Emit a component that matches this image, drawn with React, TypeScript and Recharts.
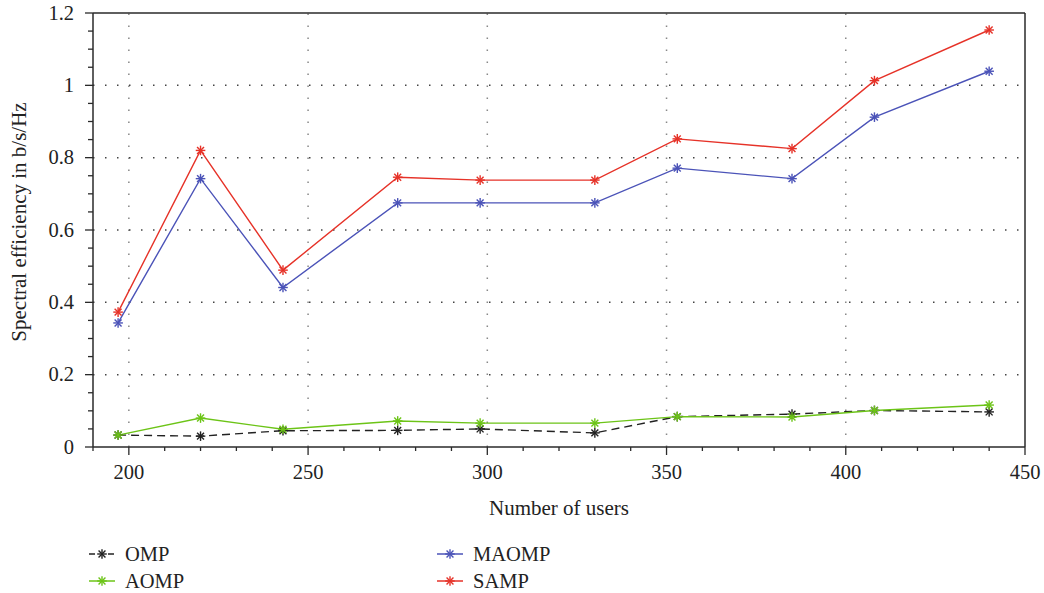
import { LineChart, Line, XAxis, YAxis, ReferenceLine } from 'recharts'

const users = [197, 220, 243, 275, 298, 330, 353, 385, 408, 440]
const omp = [0.033, 0.03, 0.045, 0.046, 0.05, 0.039, 0.084, 0.091, 0.101, 0.097]
const aomp = [0.033, 0.08, 0.049, 0.072, 0.066, 0.066, 0.084, 0.083, 0.101, 0.116]
const maomp = [0.343, 0.742, 0.441, 0.675, 0.675, 0.675, 0.771, 0.742, 0.912, 1.039]
const samp = [0.373, 0.82, 0.489, 0.746, 0.738, 0.738, 0.852, 0.825, 1.013, 1.153]

const xTicks = [190, 200, 210, 220, 230, 240, 250, 260, 270, 280, 290, 300, 310, 320, 330, 340, 350, 360, 370, 380, 390, 400, 410, 420, 430, 440, 450]
const yTicks = [0, 0.05, 0.1, 0.15, 0.2, 0.25, 0.3, 0.35, 0.4, 0.45, 0.5, 0.55, 0.6, 0.65, 0.7, 0.75, 0.8, 0.85, 0.9, 0.95, 1, 1.05, 1.1, 1.15, 1.2]
const xGrid = [200, 250, 300, 350, 400]
const yGrid = [0.2, 0.4, 0.6, 0.8, 1]

const data = users.map((u, i) => ({
  users: u,
  omp: omp[i],
  aomp: aomp[i],
  maomp: maomp[i],
  samp: samp[i]
}))

const FONT = '"Liberation Serif", "DejaVu Serif", serif'
const AXIS = '#2a2a2a'

const COLORS = {
  omp: '#222222',
  aomp: '#6cc417',
  maomp: '#4b53b8',
  samp: '#e63228'
}

const makeStar = (color: string) => (props: any) => {
  const { cx, cy, key } = props
  if (cx == null || cy == null) return <g key={key} />
  const r = 4.8
  const d = r * 0.72
  return (
    <g key={key} stroke={color} strokeWidth={1.4}>
      <line x1={cx - r} y1={cy} x2={cx + r} y2={cy} />
      <line x1={cx} y1={cy - r} x2={cx} y2={cy + r} />
      <line x1={cx - d} y1={cy - d} x2={cx + d} y2={cy + d} />
      <line x1={cx - d} y1={cy + d} x2={cx + d} y2={cy - d} />
    </g>
  )
}

const XTick = (props: any) => {
  const { x, y, payload } = props
  const v = payload.value
  const major = v % 50 === 0
  return (
    <g>
      <line x1={x} y1={y} x2={x} y2={y + (major ? 8 : 4)} stroke={AXIS} strokeWidth={1.3} />
      {major && (
        <text x={x} y={y + 32} textAnchor="middle" fontSize={20.5} fontFamily={FONT} fill="#222">
          {v}
        </text>
      )}
    </g>
  )
}

const YTick = (props: any) => {
  const { x, y, payload } = props
  const v = payload.value
  const major = Math.abs(Math.round(v * 5) - v * 5) < 1e-6
  return (
    <g>
      <line x1={x} y1={y} x2={x - (major ? 8 : 5)} y2={y} stroke={AXIS} strokeWidth={1.3} />
      {major && (
        <text x={x - 19} y={y + 6.5} textAnchor="end" fontSize={20.5} fontFamily={FONT} fill="#222">
          {Number(v.toFixed(1)).toString()}
        </text>
      )}
    </g>
  )
}

const legendItems = [
  { name: 'OMP', color: COLORS.omp, dash: true, left: 88, top: 554 },
  { name: 'AOMP', color: COLORS.aomp, dash: false, left: 88, top: 581 },
  { name: 'MAOMP', color: COLORS.maomp, dash: false, left: 436, top: 554 },
  { name: 'SAMP', color: COLORS.samp, dash: false, left: 436, top: 581 }
]

const LegendIcon = ({ color, dash }: { color: string; dash: boolean }) => {
  const Star = makeStar(color)
  return (
    <svg width={28} height={14} style={{ display: 'block' }}>
      {dash ? (
        <>
          <line x1={1} y1={7} x2={7} y2={7} stroke={color} strokeWidth={1.5} />
          <line x1={20} y1={7} x2={26} y2={7} stroke={color} strokeWidth={1.5} />
        </>
      ) : (
        <line x1={1} y1={7} x2={27} y2={7} stroke={color} strokeWidth={1.5} />
      )}
      {Star({ cx: 14, cy: 7, key: 's' })}
    </svg>
  )
}

export default function App() {
  return (
    <div style={{ position: 'absolute', left: 0, top: 0, width: 1044, height: 593, background: '#fff' }}>
      <LineChart
        width={1044}
        height={530}
        data={data}
        margin={{ top: 13, right: 19, left: 0, bottom: 0 }}
      >
        <XAxis
          dataKey="users"
          type="number"
          domain={[190, 450]}
          ticks={xTicks}
          interval={0}
          tickSize={0}
          tickMargin={0}
          tickLine={false}
          tick={<XTick />}
          height={83}
          stroke={AXIS}
          strokeWidth={1.5}
          label={({ viewBox }: any) => (
            <text
              x={viewBox.x + viewBox.width / 2}
              y={viewBox.y + 68}
              textAnchor="middle"
              fontSize={21}
              fontFamily={FONT}
              fill="#222"
            >
              Number of users
            </text>
          )}
        />
        <YAxis
          type="number"
          domain={[0, 1.2]}
          ticks={yTicks}
          interval={0}
          tickSize={0}
          tickMargin={0}
          tickLine={false}
          tick={<YTick />}
          width={93}
          stroke={AXIS}
          strokeWidth={1.5}
          label={({ viewBox }: any) => {
            const cx = 19
            const cy = viewBox.y + viewBox.height / 2 - 8
            return (
              <text
                x={cx}
                y={cy}
                transform={`rotate(-90 ${cx} ${cy})`}
                textAnchor="middle"
                dominantBaseline="central"
                fontSize={21}
                fontFamily={FONT}
                fill="#222"
              >
                Spectral efficiency in b/s/Hz
              </text>
            )
          }}
        />
        {xGrid.map((g) => (
          <ReferenceLine key={`gx${g}`} x={g} stroke="#888" strokeWidth={1.5} strokeDasharray="1.5 10.5" />
        ))}
        {yGrid.map((g) => (
          <ReferenceLine key={`gy${g}`} y={g} stroke="#444" strokeWidth={1.5} strokeDasharray="1.5 10.5" />
        ))}
        <ReferenceLine y={1.2} stroke={AXIS} strokeWidth={1.5} />
        <ReferenceLine x={450} stroke={AXIS} strokeWidth={1.5} />
        <Line
          dataKey="omp"
          name="OMP"
          stroke={COLORS.omp}
          strokeWidth={1.4}
          strokeDasharray="8 5"
          dot={makeStar(COLORS.omp)}
          isAnimationActive={false}
        />
        <Line
          dataKey="aomp"
          name="AOMP"
          stroke={COLORS.aomp}
          strokeWidth={1.4}
          dot={makeStar(COLORS.aomp)}
          isAnimationActive={false}
        />
        <Line
          dataKey="maomp"
          name="MAOMP"
          stroke={COLORS.maomp}
          strokeWidth={1.4}
          dot={makeStar(COLORS.maomp)}
          isAnimationActive={false}
        />
        <Line
          dataKey="samp"
          name="SAMP"
          stroke={COLORS.samp}
          strokeWidth={1.4}
          dot={makeStar(COLORS.samp)}
          isAnimationActive={false}
        />
      </LineChart>
      {legendItems.map((it) => (
        <div
          key={it.name}
          style={{
            position: 'absolute',
            left: it.left,
            top: it.top - 12,
            height: 24,
            display: 'flex',
            alignItems: 'center',
            fontFamily: FONT,
            fontSize: 20.5,
            color: '#222'
          }}
        >
          <LegendIcon color={it.color} dash={it.dash} />
          <span style={{ marginLeft: 9 }}>{it.name}</span>
        </div>
      ))}
    </div>
  )
}
